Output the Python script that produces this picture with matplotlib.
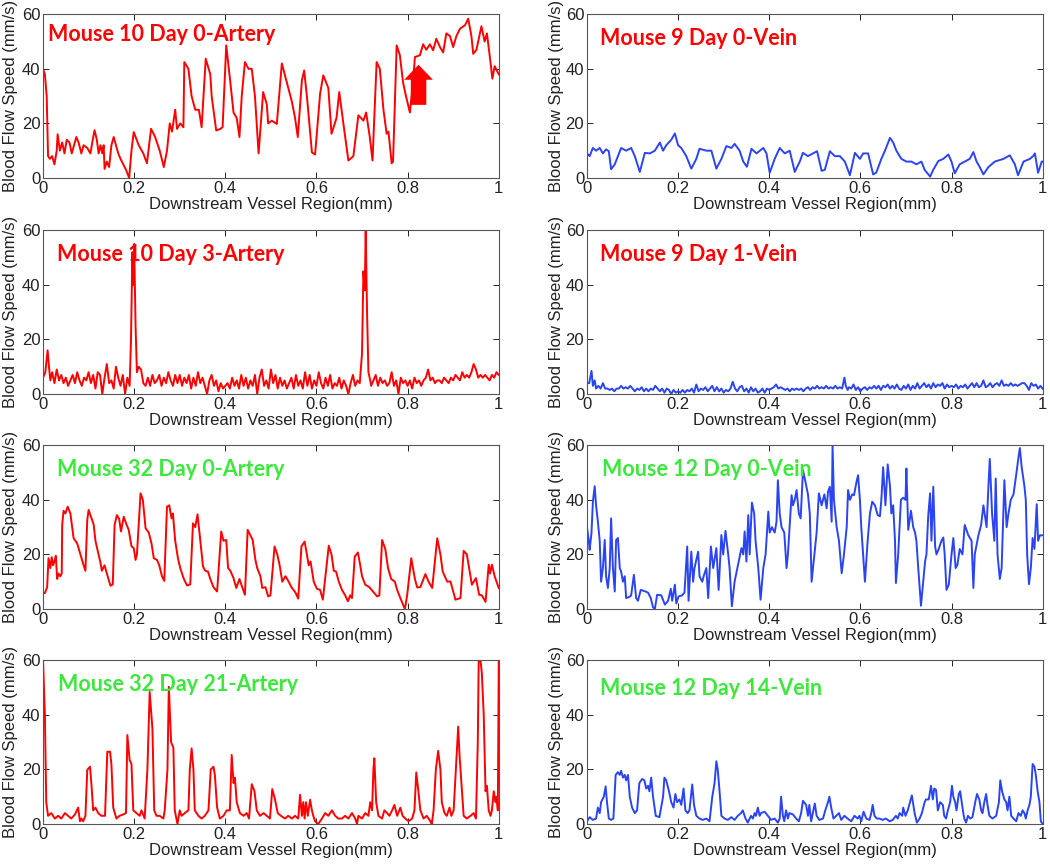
import matplotlib
matplotlib.use("Agg")
import matplotlib.pyplot as plt
from matplotlib.patches import FancyArrow

# ---- data (x in mm, speed in mm/s) ----
m10d0_x = [0, 0.004, 0.008, 0.011, 0.015, 0.02, 0.025, 0.03, 0.032, 0.037, 0.042, 0.047, 0.052, 0.058,
           0.063, 0.068, 0.073, 0.078, 0.084, 0.089, 0.097, 0.104, 0.109, 0.113, 0.118, 0.122, 0.126, 0.13,
           0.133, 0.135, 0.14, 0.145, 0.15, 0.155, 0.16, 0.165, 0.17, 0.176, 0.182, 0.189, 0.194, 0.199,
           0.21, 0.22, 0.228, 0.237, 0.246, 0.256, 0.265, 0.272, 0.278, 0.283, 0.29, 0.294, 0.301, 0.308,
           0.31, 0.319, 0.326, 0.334, 0.342, 0.348, 0.357, 0.367, 0.37, 0.374, 0.38, 0.389, 0.394, 0.402,
           0.411, 0.418, 0.425, 0.431, 0.436, 0.443, 0.451, 0.458, 0.465, 0.473, 0.483, 0.491, 0.494, 0.502,
           0.513, 0.524, 0.535, 0.546, 0.553, 0.559, 0.568, 0.573, 0.579, 0.59, 0.597, 0.608, 0.615, 0.626,
           0.633, 0.644, 0.65, 0.659, 0.67, 0.681, 0.692, 0.703, 0.709, 0.717, 0.723, 0.732, 0.739, 0.747,
           0.754, 0.758, 0.765, 0.768, 0.776, 0.783, 0.79, 0.797, 0.805, 0.812, 0.816, 0.827, 0.834, 0.841,
           0.849, 0.856, 0.863, 0.871, 0.878, 0.885, 0.893, 0.9, 0.907, 0.915, 0.926, 0.933, 0.94, 0.944,
           0.951, 0.962, 0.969, 0.974, 0.98, 0.986, 0.991, 1.0]
m10d0_y = [40, 38, 30, 8, 7, 8, 5, 10, 16, 10, 13, 9, 14, 13,
           9, 12, 15, 13, 9, 12, 11, 9, 14, 17.5, 14, 9, 12, 9,
           12, 3.3, 6, 4, 12, 15, 12, 9, 7, 5, 3, 0, 10, 16.8,
           12, 9, 5.4, 18, 15, 10, 4, 10, 20, 17, 25, 18, 20, 18.6,
           42.5, 40, 30, 25, 25, 18.6, 43.7, 38, 30, 25, 17.4, 18, 18.6, 48.6,
           35, 24, 22, 15, 30, 42.5, 40, 40, 30, 9, 31.5, 27, 20, 21,
           19.8, 42, 35, 28, 22, 15, 35.8, 39.4, 30, 9.4, 8.6, 31, 37.6, 33,
           16.2, 22, 31.5, 20, 6.4, 8, 23, 21, 24, 15, 6.4, 42.5, 40, 25,
           16.2, 17, 5.4, 6, 48.6, 45, 35, 29.6, 24, 35, 44.3, 45, 49, 47,
           49, 46.8, 51, 48, 46, 53, 52, 48, 52, 54.7, 56, 58.4, 52, 45.5,
           47, 55.6, 50, 53, 45, 36.4, 41, 38]

m9d0_x = [0, 0.006, 0.013, 0.02, 0.028, 0.035, 0.042, 0.048, 0.053, 0.061, 0.068, 0.075, 0.086, 0.097,
          0.105, 0.116, 0.127, 0.138, 0.149, 0.16, 0.167, 0.174, 0.185, 0.193, 0.2, 0.207, 0.218, 0.229,
          0.24, 0.247, 0.262, 0.273, 0.284, 0.295, 0.306, 0.317, 0.324, 0.335, 0.343, 0.351, 0.361, 0.372,
          0.387, 0.394, 0.401, 0.412, 0.423, 0.434, 0.445, 0.456, 0.467, 0.474, 0.485, 0.496, 0.505, 0.515,
          0.522, 0.533, 0.544, 0.555, 0.566, 0.577, 0.588, 0.599, 0.606, 0.617, 0.628, 0.635, 0.646, 0.654,
          0.665, 0.672, 0.679, 0.69, 0.701, 0.712, 0.723, 0.734, 0.741, 0.753, 0.76, 0.771, 0.782, 0.793,
          0.8, 0.807, 0.818, 0.829, 0.84, 0.848, 0.855, 0.862, 0.87, 0.881, 0.895, 0.914, 0.928, 0.939,
          0.946, 0.958, 0.972, 0.979, 0.983, 0.99, 0.998, 1.0]
m9d0_y = [9, 8, 11, 10, 11, 9, 10.5, 9.8, 3.2, 5, 8, 11, 10, 11,
          8, 2.2, 9.2, 9, 10, 13, 10, 12, 14, 16.3, 12, 11, 8, 3.4,
          7, 10.7, 10, 10, 3.4, 7, 11.7, 11, 12.5, 10, 6, 4.1, 10.7, 9,
          11, 9, 1.9, 7, 11, 9, 10, 2.2, 6, 9.2, 8, 9, 9.8, 2.6,
          3, 9.8, 8, 8, 6, 1, 9.2, 7, 9, 9, 1.3, 2, 7, 10,
          14.7, 13, 10, 7, 6, 6, 5, 6, 3, 0.5, 3, 6.2, 7, 8.6,
          6, 1.7, 5, 6, 7, 9.5, 6, 4, 1.3, 4, 6, 7, 8.3, 5,
          1, 6, 7, 8, 9, 1.9, 6, 6]

m10d3_x = [0, 0.005, 0.01, 0.013, 0.016, 0.02, 0.025, 0.03, 0.035, 0.04, 0.045, 0.05, 0.055, 0.06, 0.065,
           0.07, 0.075, 0.08, 0.085, 0.09, 0.095, 0.1, 0.105, 0.11, 0.115, 0.12, 0.125, 0.13, 0.135, 0.14,
           0.145, 0.15, 0.155, 0.16, 0.165, 0.17, 0.175, 0.18, 0.185, 0.19, 0.193, 0.196, 0.198, 0.2, 0.203,
           0.206, 0.21, 0.215, 0.22, 0.225, 0.23, 0.235, 0.24, 0.245, 0.25, 0.255, 0.26, 0.265, 0.27, 0.275,
           0.28, 0.285, 0.29, 0.295, 0.3, 0.305, 0.31, 0.315, 0.32, 0.325, 0.33, 0.335, 0.34, 0.345, 0.35,
           0.355, 0.36, 0.365, 0.37, 0.375, 0.38, 0.385, 0.39, 0.395, 0.4, 0.405, 0.41, 0.415, 0.42, 0.425,
           0.43, 0.435, 0.44, 0.445, 0.45, 0.455, 0.46, 0.465, 0.47, 0.475, 0.48, 0.485, 0.49, 0.495, 0.5,
           0.505, 0.51, 0.515, 0.52, 0.525, 0.53, 0.535, 0.54, 0.545, 0.55, 0.555, 0.56, 0.565, 0.57, 0.575,
           0.58, 0.585, 0.59, 0.595, 0.6, 0.605, 0.61, 0.615, 0.62, 0.625, 0.63, 0.635, 0.64, 0.645, 0.65,
           0.655, 0.66, 0.665, 0.67, 0.675, 0.68, 0.685, 0.69, 0.695, 0.7, 0.703, 0.706, 0.708, 0.711, 0.714,
           0.718, 0.72, 0.725, 0.73, 0.735, 0.74, 0.745, 0.75, 0.755, 0.76, 0.765, 0.77, 0.775, 0.78, 0.785,
           0.79, 0.795, 0.8, 0.805, 0.81, 0.815, 0.82, 0.825, 0.83, 0.835, 0.84, 0.845, 0.85, 0.855, 0.86,
           0.865, 0.87, 0.875, 0.88, 0.885, 0.89, 0.895, 0.9, 0.905, 0.91, 0.915, 0.92, 0.925, 0.93, 0.935,
           0.94, 0.945, 0.95, 0.955, 0.96, 0.965, 0.97, 0.975, 0.98, 0.985, 0.99, 0.995, 1.0]
m10d3_y = [6, 8, 16, 10, 5, 8, 4, 9, 5, 7, 4, 6, 3, 5, 7,
           4, 8, 5, 3, 6, 5, 8, 4, 7, 2, 8, 7, 0, 6, 11,
           4, 5, 2, 10, 6, 3, 7, 0, 6, 3, 20, 52, 40, 55, 25,
           8, 10, 9, 4, 3, 6, 3, 7, 4, 5, 7, 3, 6, 4, 8,
           5, 3, 7, 4, 7, 3, 6, 4, 7, 2, 6, 3, 8, 4, 6,
           3, 0, 5, 7, 3, 5, 1, 4, 2, 3, 4, 2, 6, 3, 5,
           2, 7, 3, 6, 2, 5, 3, 7, 0, 6, 9, 3, 5, 2, 9,
           4, 7, 2, 6, 3, 5, 2, 4, 6, 2, 7, 3, 5, 2, 8,
           3, 7, 2, 5, 3, 8, 4, 2, 6, 3, 7, 2, 4, 3, 6,
           2, 5, 3, 0, 4, 7, 3, 5, 4, 15, 45, 38, 60, 30, 8,
           5, 3, 5, 7, 3, 6, 4, 5, 3, 4, 8, 3, 5, 0, 6,
           4, 5, 3, 5, 2, 6, 4, 5, 3, 5, 6, 9, 5, 6, 4,
           5, 5, 4, 6, 5, 4, 6, 5, 7, 6, 5, 8, 6, 7, 6,
           8, 11, 9, 6, 7, 6, 7, 6, 5, 7, 6, 8, 7]

m9d1_x = [0, 0.005, 0.01, 0.013, 0.017, 0.02, 0.025, 0.03, 0.035, 0.04, 0.045, 0.05, 0.055, 0.06, 0.065,
          0.07, 0.075, 0.08, 0.085, 0.09, 0.095, 0.1, 0.105, 0.11, 0.115, 0.12, 0.125, 0.13, 0.135, 0.14,
          0.145, 0.15, 0.155, 0.16, 0.165, 0.17, 0.175, 0.18, 0.185, 0.19, 0.195, 0.2, 0.205, 0.21, 0.215,
          0.22, 0.225, 0.23, 0.235, 0.24, 0.245, 0.25, 0.255, 0.26, 0.265, 0.27, 0.275, 0.28, 0.285, 0.29,
          0.295, 0.3, 0.305, 0.31, 0.315, 0.32, 0.325, 0.33, 0.335, 0.34, 0.345, 0.35, 0.355, 0.36, 0.365,
          0.37, 0.375, 0.38, 0.385, 0.39, 0.395, 0.4, 0.405, 0.41, 0.415, 0.42, 0.425, 0.43, 0.435, 0.44,
          0.445, 0.45, 0.455, 0.46, 0.465, 0.47, 0.475, 0.48, 0.485, 0.49, 0.495, 0.5, 0.505, 0.51, 0.515,
          0.52, 0.525, 0.53, 0.535, 0.54, 0.545, 0.55, 0.555, 0.56, 0.565, 0.568, 0.572, 0.575, 0.58, 0.585,
          0.59, 0.595, 0.6, 0.605, 0.61, 0.615, 0.62, 0.625, 0.63, 0.635, 0.64, 0.645, 0.65, 0.655, 0.66,
          0.665, 0.67, 0.675, 0.68, 0.685, 0.69, 0.695, 0.7, 0.705, 0.71, 0.715, 0.72, 0.725, 0.73, 0.735,
          0.74, 0.745, 0.75, 0.755, 0.76, 0.765, 0.77, 0.775, 0.78, 0.785, 0.79, 0.795, 0.8, 0.805, 0.81,
          0.815, 0.82, 0.825, 0.83, 0.835, 0.84, 0.845, 0.85, 0.855, 0.86, 0.865, 0.87, 0.875, 0.88, 0.885,
          0.89, 0.895, 0.9, 0.905, 0.91, 0.915, 0.92, 0.925, 0.93, 0.935, 0.94, 0.945, 0.95, 0.955, 0.96,
          0.965, 0.97, 0.975, 0.98, 0.985, 0.99, 0.995, 1.0]
m9d1_y = [4, 4, 8.5, 3, 5, 2, 3, 2, 4, 2, 2, 1.5, 2, 1, 2,
          2, 3, 2, 2.5, 2, 3, 2, 1, 2, 1.5, 2.5, 1, 2, 1, 2,
          1.5, 3, 2, 1, 2, 0.5, 2, 1.5, 0, 1.5, 0.5, 1, 0.5, 1.5, 0.5,
          1.5, 1, 2, 0.5, 3.5, 1, 2, 1.5, 2.5, 1, 2, 3, 1, 2.5, 1,
          2, 0.5, 1.5, 1, 2, 4.5, 2, 1, 2.5, 3, 1, 2, 0.5, 2.5, 1,
          2, 0.5, 1, 2, 0.5, 2, 1.5, 2, 2.5, 3.5, 2, 2.5, 2, 1.5, 2,
          1, 2, 1.5, 2, 1.5, 2, 1, 2, 2.5, 1.5, 2.5, 2, 3, 2, 2.5,
          2, 3, 2, 2.5, 2, 3, 2, 2.5, 2, 6, 3, 1.5, 2.5, 2, 3.5,
          1.5, 2.5, 1, 2, 2.5, 1.5, 2.5, 2, 3, 2, 3, 1.5, 3, 2.5, 3.5,
          2, 3, 2, 3.5, 2, 1.5, 3, 2, 3.5, 1.5, 3, 2, 4, 2, 3,
          4, 2.5, 3.5, 2, 4, 2.5, 3.5, 3, 4, 2, 3.5, 2.5, 3, 2.5, 3.5,
          2, 3, 2.5, 3.5, 2, 3, 4, 2.5, 4, 2.5, 3, 5, 2.5, 3, 4,
          2.5, 3.5, 4, 3, 5, 3, 3.5, 3, 4, 3, 3.5, 3, 3.5, 4, 4,
          3, 1.5, 4, 3, 3.5, 2, 3, 2]

m32d0_x = [0, 0.004, 0.009, 0.012, 0.016, 0.019, 0.022, 0.026, 0.028, 0.031, 0.034, 0.038, 0.041, 0.042,
           0.045, 0.049, 0.054, 0.06, 0.064, 0.067, 0.075, 0.082, 0.089, 0.093, 0.097, 0.1, 0.107, 0.111,
           0.115, 0.119, 0.126, 0.129, 0.135, 0.14, 0.148, 0.153, 0.157, 0.162, 0.167, 0.171, 0.177, 0.183,
           0.188, 0.194, 0.199, 0.203, 0.206, 0.214, 0.219, 0.225, 0.232, 0.238, 0.243, 0.25, 0.255, 0.261,
           0.266, 0.272, 0.277, 0.282, 0.285, 0.29, 0.296, 0.301, 0.309, 0.316, 0.323, 0.329, 0.334, 0.339,
           0.345, 0.351, 0.356, 0.362, 0.367, 0.374, 0.382, 0.391, 0.396, 0.402, 0.406, 0.411, 0.418, 0.424,
           0.431, 0.435, 0.443, 0.449, 0.455, 0.46, 0.466, 0.47, 0.477, 0.481, 0.488, 0.494, 0.499, 0.508,
           0.514, 0.519, 0.525, 0.532, 0.539, 0.545, 0.554, 0.56, 0.567, 0.574, 0.579, 0.583, 0.587, 0.594,
           0.601, 0.608, 0.614, 0.627, 0.633, 0.638, 0.643, 0.649, 0.656, 0.663, 0.669, 0.674, 0.678, 0.684,
           0.691, 0.696, 0.7, 0.707, 0.716, 0.726, 0.733, 0.738, 0.744, 0.751, 0.757, 0.764, 0.772, 0.777,
           0.784, 0.789, 0.794, 0.799, 0.808, 0.816, 0.821, 0.828, 0.839, 0.846, 0.854, 0.865, 0.872, 0.877,
           0.887, 0.894, 0.905, 0.916, 0.923, 0.93, 0.936, 0.941, 0.95, 0.957, 0.963, 0.971, 0.978, 0.981,
           0.985, 0.991, 1.0]
m32d0_y = [6, 5.8, 8, 18.6, 15, 19, 16, 18, 19.5, 11, 13, 12, 13, 30.8,
           36, 35, 37.5, 35, 30, 26, 24, 20, 16, 14, 32.6, 36.3, 33, 31,
           25, 22, 17, 14, 16, 13, 8.5, 9, 30.8, 34.4, 33, 28.4, 33.8, 31,
           29, 23, 22.3, 18, 20, 42.4, 40, 29.6, 28, 24, 18.6, 18, 16, 12,
           10.3, 37.5, 38, 33.2, 35, 25, 18.6, 15, 11, 8.6, 9, 31.4, 30, 34.7,
           25, 15.6, 14, 13.7, 11, 8, 6.4, 28.4, 25, 25.3, 15, 14, 11.3, 7.7,
           11, 9, 5.2, 29, 27, 25.3, 18, 15, 12, 7.7, 8, 4.6, 5, 22.9,
           20, 16.2, 10, 12, 10, 8, 6, 3.8, 22.9, 24.7, 20, 16, 17.4, 10,
           7.4, 7, 3.4, 23.2, 20, 14, 13.7, 10, 7, 5, 2.8, 5, 4, 19.2,
           20.7, 16, 12, 8.9, 8, 6, 4.6, 5, 25.3, 22, 15, 11, 10, 7,
           4, 2, 0, 5, 18.6, 11, 7.9, 8, 12.8, 10, 7.7, 25.9, 20, 13.7,
           10, 10.1, 3.4, 4, 21.3, 20, 14, 8.9, 11.3, 5.2, 5, 2.6, 16.2, 13,
           16.2, 12, 7.7]

m12d0_x = [0, 0.004, 0.006, 0.01, 0.013, 0.017, 0.02, 0.024, 0.028, 0.031, 0.035, 0.039, 0.042, 0.046,
           0.05, 0.053, 0.057, 0.061, 0.064, 0.068, 0.072, 0.075, 0.079, 0.083, 0.086, 0.094, 0.097, 0.103,
           0.108, 0.112, 0.118, 0.127, 0.134, 0.14, 0.145, 0.149, 0.154, 0.163, 0.171, 0.178, 0.184, 0.187,
           0.193, 0.196, 0.201, 0.209, 0.214, 0.22, 0.223, 0.229, 0.233, 0.236, 0.24, 0.244, 0.247, 0.253,
           0.257, 0.262, 0.266, 0.272, 0.277, 0.284, 0.289, 0.295, 0.299, 0.304, 0.31, 0.313, 0.318, 0.324,
           0.33, 0.339, 0.343, 0.346, 0.35, 0.354, 0.357, 0.362, 0.367, 0.37, 0.376, 0.381, 0.387, 0.392,
           0.398, 0.401, 0.406, 0.412, 0.416, 0.419, 0.423, 0.427, 0.433, 0.438, 0.441, 0.449, 0.452, 0.456,
           0.46, 0.465, 0.469, 0.474, 0.479, 0.485, 0.489, 0.493, 0.499, 0.504, 0.509, 0.515, 0.521, 0.526,
           0.529, 0.533, 0.537, 0.539, 0.542, 0.548, 0.553, 0.559, 0.564, 0.57, 0.573, 0.577, 0.582, 0.586,
           0.592, 0.595, 0.599, 0.602, 0.606, 0.61, 0.616, 0.621, 0.626, 0.632, 0.638, 0.643, 0.646, 0.65,
           0.655, 0.66, 0.665, 0.668, 0.672, 0.676, 0.678, 0.683, 0.689, 0.694, 0.699, 0.701, 0.705, 0.711,
           0.716, 0.72, 0.723, 0.727, 0.733, 0.738, 0.742, 0.745, 0.749, 0.753, 0.756, 0.76, 0.764, 0.767,
           0.772, 0.778, 0.782, 0.785, 0.789, 0.794, 0.8, 0.804, 0.809, 0.813, 0.818, 0.824, 0.829, 0.837,
           0.844, 0.848, 0.851, 0.859, 0.865, 0.87, 0.877, 0.881, 0.884, 0.889, 0.894, 0.897, 0.901, 0.906,
           0.91, 0.916, 0.921, 0.925, 0.93, 0.936, 0.941, 0.947, 0.95, 0.954, 0.96, 0.963, 0.966, 0.97,
           0.974, 0.978, 0.982, 0.987, 0.99, 0.994, 1.0]
m12d0_y = [30, 25, 21.7, 28, 39.3, 45, 38, 32, 25, 10, 15, 25.3, 12, 7.7,
           15, 33.2, 15, 6.4, 25.3, 26, 15, 13.7, 10, 12, 4, 4.5, 5, 12.5,
           4, 3, 7, 6.5, 6, 4, 0.6, 0, 5.2, 5, 1.6, 3, 7.4, 3,
           8.9, 2, 4.6, 5, 6, 22.9, 3, 21, 10, 15, 18, 21, 12, 10,
           12.5, 15, 4, 22.9, 15, 22.3, 7, 27.1, 20, 28.6, 20, 15, 1, 10,
           15, 22.3, 20, 28.4, 17.4, 34.4, 20, 39, 35, 25, 15, 3.4, 15, 20,
           35.7, 28, 30, 28, 32, 47.2, 35, 30, 28, 15, 20, 41.7, 38, 40,
           43.6, 35, 33.2, 50.9, 47, 42, 35, 10, 20, 28, 42.4, 38, 42, 36.9,
           43, 44.8, 32, 60, 40, 30, 25, 13.1, 20, 30, 43.6, 40, 42, 41.7,
           47, 49, 40, 30, 20, 10, 25, 35, 39.3, 38, 34.4, 34, 40, 52,
           38, 53, 45, 35, 38, 25, 9.5, 20, 40, 40.8, 40, 51.5, 29, 36,
           30, 28, 25, 15, 1.2, 10, 17.4, 20, 34.4, 42.4, 25, 44.8, 23, 20,
           22, 25, 26.2, 20, 7, 8.9, 20, 26, 15, 16.2, 22, 20, 30.8, 27,
           25, 7.7, 20, 27, 30.8, 38, 30, 45, 55, 35, 25, 47.8, 20, 11,
           15, 47.2, 30, 35, 40, 42, 48, 55.7, 59, 52, 45, 40, 20, 9.1,
           15, 26, 22, 38.4, 25, 27, 27]

m32d21_x = [0, 0.004, 0.007, 0.011, 0.018, 0.026, 0.033, 0.04, 0.048, 0.055, 0.062, 0.07, 0.077, 0.081,
            0.084, 0.088, 0.093, 0.097, 0.103, 0.106, 0.11, 0.115, 0.121, 0.128, 0.136, 0.141, 0.147, 0.15,
            0.154, 0.161, 0.168, 0.176, 0.182, 0.185, 0.19, 0.194, 0.198, 0.205, 0.212, 0.216, 0.223, 0.229,
            0.234, 0.24, 0.244, 0.249, 0.256, 0.264, 0.267, 0.273, 0.276, 0.281, 0.286, 0.289, 0.295, 0.3,
            0.304, 0.311, 0.319, 0.322, 0.326, 0.33, 0.333, 0.341, 0.348, 0.355, 0.363, 0.368, 0.374, 0.377,
            0.382, 0.388, 0.396, 0.403, 0.41, 0.414, 0.418, 0.421, 0.425, 0.432, 0.44, 0.447, 0.452, 0.458,
            0.464, 0.469, 0.476, 0.484, 0.491, 0.498, 0.503, 0.509, 0.515, 0.522, 0.531, 0.538, 0.546, 0.553,
            0.56, 0.564, 0.568, 0.571, 0.574, 0.577, 0.581, 0.586, 0.59, 0.593, 0.597, 0.604, 0.612, 0.619,
            0.626, 0.634, 0.641, 0.648, 0.656, 0.663, 0.67, 0.678, 0.685, 0.689, 0.692, 0.7, 0.707, 0.714,
            0.718, 0.722, 0.725, 0.727, 0.731, 0.736, 0.744, 0.749, 0.755, 0.76, 0.766, 0.771, 0.777, 0.784,
            0.789, 0.795, 0.802, 0.81, 0.815, 0.819, 0.823, 0.828, 0.835, 0.842, 0.85, 0.853, 0.857, 0.862,
            0.867, 0.872, 0.875, 0.881, 0.886, 0.892, 0.896, 0.901, 0.906, 0.911, 0.914, 0.918, 0.923, 0.93,
            0.938, 0.945, 0.95, 0.954, 0.956, 0.96, 0.963, 0.967, 0.971, 0.974, 0.978, 0.982, 0.985, 0.989,
            0.993, 0.995, 0.998, 1.0]
m32d21_y = [60, 40, 8, 3, 4, 2, 3, 2, 4, 3, 2, 3.5, 6, 1,
            2, 1, 3, 19.8, 21, 15, 5, 6, 4, 3, 3, 26.5, 26.5, 22,
            6, 2, 3, 3.5, 4, 32.6, 23.5, 22, 5, 4, 3, 5, 2, 20,
            48.4, 35, 5, 3, 3, 2, 5, 20, 50.3, 30, 28, 5, 0, 5,
            3, 4, 5, 20, 27.7, 20, 5, 3, 2, 3, 5, 20, 21, 18,
            6, 2, 3, 5, 5, 25.3, 15, 17, 8, 4, 3, 4, 2, 14.6,
            12, 5, 3, 4, 3, 2, 12.8, 9, 4, 3, 2, 3, 2, 3,
            2, 10.7, 3, 8, 2, 8, 3, 8.9, 5, 3, 1, 0, 2, 4,
            3, 5, 3, 2, 2, 3, 2, 4, 2, 0, 3, 2, 4, 3,
            8, 5, 20, 24.1, 8, 3, 2, 5, 4, 3, 5, 7, 3, 6,
            3, 2, 1, 2, 5, 18.9, 13, 5, 2, 3, 1, 0, 5, 20,
            26.8, 20, 8, 4, 3, 6, 3, 5, 20, 35.7, 25, 15, 3, 2,
            3, 4, 2, 30, 60, 60, 55, 40, 12, 14, 5, 3, 5, 12,
            8, 10, 5, 60]

m12d14_x = [0, 0.006, 0.013, 0.02, 0.024, 0.028, 0.031, 0.037, 0.041, 0.044, 0.048, 0.053, 0.058, 0.063,
            0.068, 0.072, 0.075, 0.079, 0.083, 0.086, 0.09, 0.094, 0.099, 0.105, 0.11, 0.115, 0.121, 0.126,
            0.13, 0.134, 0.137, 0.141, 0.145, 0.151, 0.159, 0.167, 0.17, 0.174, 0.18, 0.185, 0.19, 0.194,
            0.198, 0.203, 0.207, 0.212, 0.216, 0.221, 0.225, 0.231, 0.235, 0.24, 0.247, 0.254, 0.262, 0.269,
            0.275, 0.28, 0.284, 0.287, 0.291, 0.295, 0.302, 0.309, 0.317, 0.324, 0.331, 0.338, 0.342, 0.348,
            0.353, 0.36, 0.364, 0.368, 0.371, 0.375, 0.379, 0.382, 0.39, 0.397, 0.404, 0.412, 0.419, 0.423,
            0.426, 0.43, 0.433, 0.437, 0.441, 0.444, 0.452, 0.459, 0.465, 0.47, 0.474, 0.481, 0.485, 0.488,
            0.492, 0.497, 0.5, 0.504, 0.51, 0.518, 0.523, 0.529, 0.532, 0.536, 0.541, 0.547, 0.553, 0.558,
            0.565, 0.572, 0.58, 0.587, 0.594, 0.598, 0.602, 0.607, 0.613, 0.62, 0.624, 0.627, 0.631, 0.636,
            0.642, 0.649, 0.656, 0.664, 0.671, 0.678, 0.682, 0.686, 0.692, 0.694, 0.699, 0.704, 0.709, 0.713,
            0.719, 0.724, 0.73, 0.735, 0.741, 0.744, 0.75, 0.755, 0.759, 0.762, 0.766, 0.77, 0.775, 0.781,
            0.784, 0.788, 0.792, 0.797, 0.801, 0.804, 0.808, 0.811, 0.816, 0.819, 0.825, 0.828, 0.832, 0.836,
            0.841, 0.846, 0.852, 0.856, 0.861, 0.865, 0.868, 0.872, 0.876, 0.879, 0.883, 0.89, 0.898, 0.904,
            0.907, 0.911, 0.916, 0.92, 0.923, 0.927, 0.931, 0.936, 0.942, 0.947, 0.952, 0.956, 0.96, 0.963,
            0.967, 0.971, 0.974, 0.978, 0.982, 0.985, 0.989, 0.993, 0.996, 1.0]
m12d14_y = [1, 2.5, 1.5, 2, 6, 4, 8, 10, 13.8, 8, 2, 1.5, 2, 18,
            19, 18, 19.5, 17, 18, 16, 18, 10, 6, 4, 5, 15, 16.5, 16,
            13, 14, 12, 17, 10, 3, 2.5, 10, 17, 16, 12, 8, 6, 11,
            8, 9, 7, 13, 5, 4, 5, 14.5, 7, 3, 2, 1.5, 2, 1,
            10, 15, 23, 20, 12, 3, 2, 1.5, 2.5, 1.5, 3, 4, 5, 2,
            0.5, 3, 2, 4, 3, 6, 3, 4, 4.5, 3, 1.5, 2, 0.5, 2,
            10, 3, 1, 5, 2, 4, 3.5, 2, 1, 4, 8.5, 7, 3, 7,
            1, 5, 7.5, 3, 1.5, 2, 5, 8, 10, 6, 2, 3, 4, 1.5,
            3, 2, 1, 3, 2, 3, 1, 4.5, 2, 1.5, 4, 7, 3, 2,
            2, 1.5, 2, 1, 1.5, 3, 2, 4, 3, 6, 3, 5, 8, 10.5,
            4, 0.5, 2, 4, 8, 9, 9, 14, 9, 13, 12.5, 5, 8, 7,
            3, 2, 5, 8, 14, 10, 8, 5, 11, 12, 5, 2, 0.5, 3,
            2, 2.5, 8, 11, 9, 5, 4, 8, 11, 7, 3, 2, 3, 8,
            16, 12, 9, 8, 5, 10, 3, 2, 1, 4, 3, 5, 4, 2,
            5, 7, 10, 22, 21, 18, 12, 8, 1, 0]

titles = ["Mouse 10 Day 0-Artery", "Mouse 9 Day 0-Vein",
          "Mouse 10 Day 3-Artery", "Mouse 9 Day 1-Vein",
          "Mouse 32 Day 0-Artery", "Mouse 12 Day 0-Vein",
          "Mouse 32 Day 21-Artery", "Mouse 12 Day 14-Vein"]
series = [(m10d0_x, m10d0_y), (m9d0_x, m9d0_y),
          (m10d3_x, m10d3_y), (m9d1_x, m9d1_y),
          (m32d0_x, m32d0_y), (m12d0_x, m12d0_y),
          (m32d21_x, m32d21_y), (m12d14_x, m12d14_y)]
xticks = [0, 0.2, 0.4, 0.6, 0.8, 1]
xticklabels = ["0", "0.2", "0.4", "0.6", "0.8", "1"]
yticks = [0, 20, 40, 60]

RED = "#ff0000"
BLUE = "#2b44f2"
GREEN = "#3ce83c"
title_colors = [RED, RED, RED, RED, GREEN, GREEN, GREEN, GREEN]
line_colors = [RED, BLUE, RED, BLUE, RED, BLUE, RED, BLUE]

# title anchor (axes fraction) per panel
title_pos = [(0.011, 0.875), (0.029, 0.855), (0.03, 0.855), (0.029, 0.855),
             (0.03, 0.855), (0.033, 0.855), (0.033, 0.855), (0.029, 0.83)]

plt.rcParams['font.family'] = ['Liberation Sans', 'DejaVu Sans']

fig = plt.figure(figsize=(10.5, 8.66), dpi=100)
lefts = [0.041, 0.559]
bottoms = [0.7945, 0.545, 0.2968, 0.0485]
w, h = 0.434, 0.189

for i in range(8):
    r, c = divmod(i, 2)
    ax = fig.add_axes([lefts[c], bottoms[r], w, h])
    xs, ys = series[i]
    ax.plot(xs, ys, color=line_colors[i], lw=1.4)
    ax.set_xlim(0, 1)
    ax.set_ylim(0, 60)
    ax.set_xticks(xticks)
    ax.set_xticklabels(xticklabels)
    ax.set_yticks(yticks)
    ax.tick_params(direction='in', top=True, right=True, length=4, width=0.7,
                   labelsize=12, pad=2, colors='#222222')
    for s in ax.spines.values():
        s.set_color('#555555')
        s.set_linewidth(0.8)
    ax.set_xlabel("Downstream Vessel Region(mm)", fontsize=12, color='#222222')
    ax.set_ylabel("Blood Flow Speed (mm/s)", fontsize=12, color='#222222')
    ax.xaxis.set_label_coords(0.5, -0.115)
    ax.yaxis.set_label_coords(-0.055 if c == 0 else -0.051, 0.5)
    tx, ty = title_pos[i]
    ax.text(tx, ty, titles[i], transform=ax.transAxes, fontsize=15.5,
            fontweight='bold', family='Lato', color=title_colors[i],
            ha='left', va='center')
    if i == 0:
        ax.add_patch(FancyArrow(0.824, 26.8, 0, 14.7, width=0.034,
                                head_width=0.063, head_length=5.5,
                                length_includes_head=True, color=RED, lw=0))

fig.savefig("out.png", dpi=100)
